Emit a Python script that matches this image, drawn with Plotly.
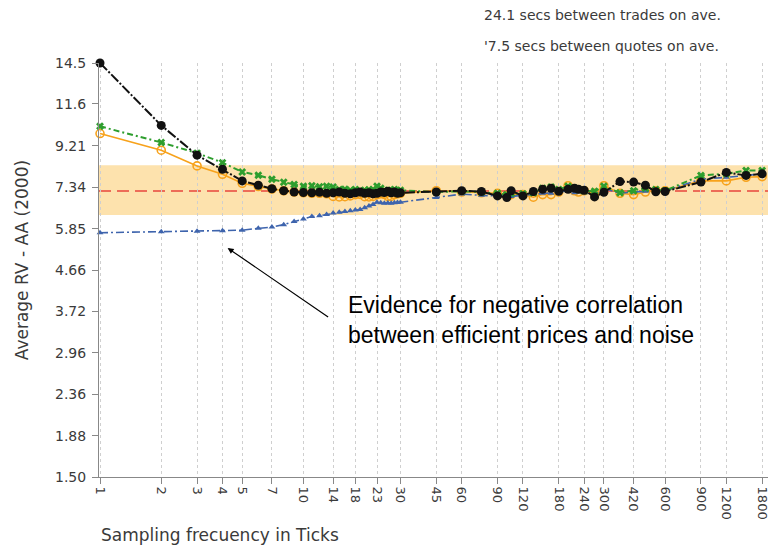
import math
import plotly.graph_objects as go

# ---- data ----
sampling = list(range(1, 31)) + [45, 60, 75, 90, 100, 105, 120, 135, 150, 165, 180, 200, 215, 225,
                                 240, 270, 300, 360, 420, 480, 540, 600, 900, 1200, 1500, 1800]

rv_black = [14.5, 10.3, 8.75, 8.1, 7.6, 7.42, 7.28, 7.2, 7.15, 7.13, 7.12, 7.14, 7.1, 7.12, 7.15,
            7.1, 7.08, 7.12, 7.15, 7.1, 7.12, 7.08, 7.1, 7.15, 7.13, 7.18, 7.12, 7.15, 7.1, 7.12,
            7.15, 7.2, 7.17, 7.0, 6.94, 7.2, 7.0, 7.17, 7.26, 7.3, 7.18, 7.26, 7.3, 7.26, 7.22,
            6.96, 7.14, 7.57, 7.55, 7.42, 7.16, 7.17, 7.55, 7.96, 7.83, 7.9]

rv_green = [10.25, 9.38, 8.85, 8.4, 7.98, 7.84, 7.67, 7.54, 7.45, 7.38, 7.4, 7.36, 7.38, 7.35, 7.25,
            7.26, 7.22, 7.25, 7.2, 7.22, 7.24, 7.25, 7.38, 7.3, 7.22, 7.2, 7.22, 7.25, 7.2, 7.22,
            7.15, 7.18, 7.15, 7.1, 7.05, 7.1, 7.08, 7.12, 7.3, 7.35, 7.25, 7.38, 7.3, 7.25, 7.2,
            7.18, 7.38, 7.12, 7.2, 7.3, 7.25, 7.2, 7.83, 7.9, 8.05, 8.05]

rv_orange = [9.85, 8.99, 8.25, 7.88, 7.5, 7.37, 7.27, 7.2, 7.15, 7.12, 7.1, 7.1, 7.08, 6.98, 6.96,
             6.97, 7.0, 7.05, 7.06, 6.97, 6.96, 6.98, 7.05, 7.08, 7.06, 6.98, 6.98, 7.05, 7.08, 7.1,
             7.2, 7.15, 7.12, 7.1, 7.0, 7.05, 7.05, 6.95, 7.05, 7.05, 7.15, 7.4, 7.2, 7.15, 7.2,
             7.1, 7.4, 7.1, 7.05, 7.15, 7.2, 7.2, 7.6, 7.6, 7.75, 7.78]

rv_blue = [5.72, 5.75, 5.77, 5.78, 5.80, 5.86, 5.90, 5.98, 6.08, 6.17, 6.25, 6.28, 6.32, 6.37, 6.40,
           6.43, 6.45, 6.48, 6.50, 6.56, 6.62, 6.68, 6.76, 6.74, 6.72, 6.73, 6.72, 6.74, 6.75, 6.76,
           6.94, 7.07, 7.02, 7.0, 7.0, 6.98, 7.02, 7.05, 7.1, 7.1, 7.15, 7.2, 7.12, 7.15, 7.12,
           7.05, 7.3, 7.1, 7.15, 7.18, 7.2, 7.2, 7.67, 7.75, 7.85, 7.9]

band_low, band_high = 6.30, 8.28
ref_level = 7.19

x_tick_vals = [1, 2, 3, 4, 5, 7, 10, 14, 18, 23, 30, 45, 60, 90, 120, 180, 240, 300, 420, 600, 900, 1200, 1800]
y_tick_labels = ["1.50", "1.88", "2.36", "2.96", "3.72", "4.66", "5.85", "7.34", "9.21", "11.6", "14.5"]
y_tick_vals = [float(t) for t in y_tick_labels]

CHART_FONT = "DejaVu Sans"
TXT = "#3a3a3a"

fig = go.Figure()

# band and reference line
fig.add_shape(type="rect", xref="paper", x0=0, x1=1, yref="y",
              y0=band_low, y1=band_high,
              fillcolor="#fde2ad", line_width=0, layer="below")
fig.add_shape(type="line", xref="paper", x0=0, x1=1, yref="y",
              y0=ref_level, y1=ref_level,
              line=dict(color="#e8463c", width=1.5, dash="12px,6px"), layer="below")

fig.add_trace(go.Scatter(x=sampling, y=rv_orange, mode="lines+markers", cliponaxis=False,
                         line=dict(color="#f7a21b", width=1.6),
                         marker=dict(symbol="circle-open", size=8, color="#f7a21b", line=dict(width=1.6))))
fig.add_trace(go.Scatter(x=sampling, y=rv_blue, mode="lines+markers", cliponaxis=False,
                         line=dict(color="#3e64ad", width=1.6, dash="8px,3px,2px,3px"),
                         marker=dict(symbol="triangle-up", size=6, color="#3e64ad")))
fig.add_trace(go.Scatter(x=sampling, y=rv_green, mode="lines+markers", cliponaxis=False,
                         line=dict(color="#2e9e2e", width=2, dash="6px,3px,2px,3px"),
                         marker=dict(symbol="x", size=7, color="#2e9e2e")))
fig.add_trace(go.Scatter(x=sampling, y=rv_black, mode="lines+markers", cliponaxis=False,
                         line=dict(color="#111111", width=2, dash="10px,2px,2px,2px"),
                         marker=dict(symbol="circle", size=9, color="#111111")))

fig.update_xaxes(type="log", range=[-0.005, 3.284], tickmode="array", tickvals=x_tick_vals,
                 ticktext=[str(v) for v in x_tick_vals], tickangle=90,
                 tickfont=dict(family=CHART_FONT, size=13, color=TXT),
                 showline=True, linecolor="#888888", linewidth=1,
                 ticks="outside", ticklen=6, tickcolor="#888888",
                 showgrid=True, gridcolor="#cfcfcf", griddash="dot", gridwidth=1,
                 zeroline=False)
fig.update_yaxes(type="log", range=[math.log10(1.5), math.log10(14.5)], tickmode="array",
                 tickvals=y_tick_vals, ticktext=y_tick_labels,
                 tickfont=dict(family=CHART_FONT, size=14, color=TXT),
                 showline=True, linecolor="#888888", linewidth=1,
                 ticks="outside", ticklen=6, tickcolor="#888888", ticklabelstandoff=3,
                 showgrid=False, zeroline=False)

annotations = [
    dict(text="24.1 secs between trades on ave.", xref="paper", yref="paper",
         x=(483 - 99) / 671, y=(477 - 15) / 414, xanchor="left", yanchor="middle", showarrow=False,
         font=dict(family=CHART_FONT, size=14, color=TXT)),
    dict(text="'7.5 secs between quotes on ave.", xref="paper", yref="paper",
         x=(483 - 99) / 671, y=(477 - 46) / 414, xanchor="left", yanchor="middle", showarrow=False,
         font=dict(family=CHART_FONT, size=14, color=TXT)),
    dict(text="Sampling frecuency in Ticks", xref="paper", yref="paper",
         x=0, y=(477 - 535) / 414, xanchor="left", yanchor="middle", showarrow=False,
         font=dict(family=CHART_FONT, size=17, color=TXT)),
    dict(text="Average RV - AA (2000)", xref="paper", yref="paper", textangle=-90,
         x=(22 - 99) / 671, y=(477 - 260) / 414, xanchor="center", yanchor="middle", showarrow=False,
         font=dict(family=CHART_FONT, size=17, color=TXT)),
    dict(text="Evidence for negative correlation<br>between efficient prices and noise",
         xref="paper", yref="paper", x=(347 - 99) / 671, y=(477 - 320) / 414,
         xanchor="left", yanchor="middle", align="left", showarrow=False,
         font=dict(family="Liberation Sans, Arial", size=23, color="#000000")),
    dict(text="", xref="paper", yref="paper", x=(228 - 99) / 671, y=(477 - 248) / 414,
         ax=102, ay=70, showarrow=True, arrowhead=2, arrowsize=1, arrowwidth=1.2,
         arrowcolor="#000000"),
]

fig.update_layout(width=772, height=551, margin=dict(l=99, r=2, t=63, b=74),
                  paper_bgcolor="white", plot_bgcolor="white", showlegend=False,
                  annotations=annotations)

fig.write_html("out.html", config={"displayModeBar": False},
               post_script="document.body.style.margin='0';document.body.style.overflow='hidden';")
